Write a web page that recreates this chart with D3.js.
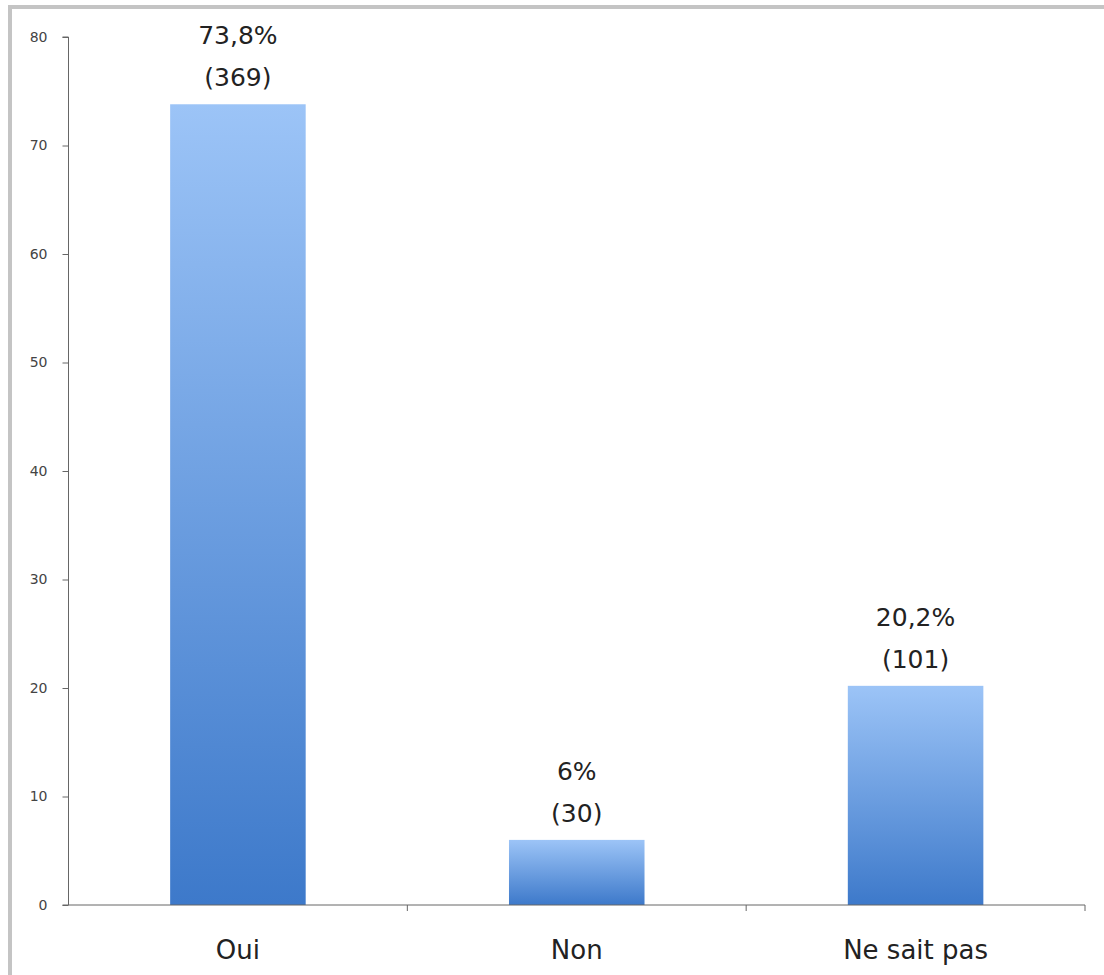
<!DOCTYPE html>
<html><head><meta charset="utf-8">
<script src="https://cdn.jsdelivr.net/npm/d3@7"></script>
<style>html,body{margin:0;padding:0;background:#fff;}svg{display:block;}</style>
</head><body>
<svg id="c" width="1104" height="975"></svg>
<script>
const categories = ["Oui", "Non", "Ne sait pas"];
const values = [73.8, 6, 20.2];
const counts = [369, 30, 101];
const pctLabels = ["73,8%", "6%", "20,2%"];
const yTicks = [0, 10, 20, 30, 40, 50, 60, 70, 80];

(function () {
const svg = d3.select("#c");
// frame
svg.append("rect").attr("x", 0).attr("y", 0).attr("width", 1104).attr("height", 975).attr("fill", "#fff");
svg.append("line").attr("x1", 8).attr("x2", 1104).attr("y1", 7).attr("y2", 7).attr("stroke", "#c4c4c4").attr("stroke-width", 4);
svg.append("line").attr("x1", 10).attr("x2", 10).attr("y1", 5).attr("y2", 975).attr("stroke", "#c4c4c4").attr("stroke-width", 4);

const mLeft = 68.5, mRight = 1085, mTop = 37, mBottom = 905;
const x = d3.scaleBand().domain(categories).range([mLeft, mRight]).paddingInner(0).paddingOuter(0);
const y = d3.scaleLinear().domain([0, 80]).range([mBottom, mTop]);

const defs = svg.append("defs");
const g = defs.append("linearGradient").attr("id", "barGrad").attr("x1", 0).attr("y1", 0).attr("x2", 0).attr("y2", 1);
g.append("stop").attr("offset", "0%").attr("stop-color", "#9cc4f7");
g.append("stop").attr("offset", "100%").attr("stop-color", "#3d79ca");

const barW = x.bandwidth() * 0.4;
svg.selectAll("rect.bar").data(values).join("rect").attr("class", "bar")
  .attr("x", (d, i) => x(categories[i]) + (x.bandwidth() - barW) / 2)
  .attr("width", barW)
  .attr("y", d => y(d))
  .attr("height", d => y(0) - y(d))
  .attr("fill", "url(#barGrad)");

// y axis
const yAxis = d3.axisLeft(y).tickValues(yTicks).tickSize(6).tickPadding(15);
const ya = svg.append("g").attr("transform", `translate(${mLeft},0)`).call(yAxis);
ya.select(".domain").attr("stroke", "#666").attr("d", `M-6,${mTop}H0V${mBottom}H-6`);
ya.selectAll(".tick line").attr("stroke", "#666");
ya.selectAll(".tick text").attr("font-family", "DejaVu Sans, sans-serif").attr("font-size", 14).attr("fill", "#444");

// x axis
const xAxis = d3.axisBottom(x).tickSize(0).tickPadding(0).tickFormat("");
const xa = svg.append("g").attr("transform", `translate(0,${mBottom})`).call(xAxis);
xa.select(".domain").attr("stroke", "#666").attr("d", `M${mLeft},0H${mRight}V6`);
const bounds = [x.range()[0] + x.bandwidth(), x.range()[0] + 2 * x.bandwidth()];
xa.selectAll("line.bt").data(bounds).join("line").attr("class", "bt")
  .attr("x1", d => d).attr("x2", d => d).attr("y1", 0).attr("y2", 6).attr("stroke", "#666");

svg.selectAll("text.cat").data(categories).join("text").attr("class", "cat")
  .attr("x", d => x(d) + x.bandwidth() / 2)
  .attr("y", mBottom + 54)
  .attr("text-anchor", "middle")
  .attr("font-family", "DejaVu Sans, sans-serif").attr("font-size", 26).attr("fill", "#222")
  .text(d => d);

// value labels
svg.selectAll("text.pct").data(values).join("text").attr("class", "pct")
  .attr("x", (d, i) => x(categories[i]) + x.bandwidth() / 2)
  .attr("y", d => y(d) - 60)
  .attr("text-anchor", "middle")
  .attr("font-family", "DejaVu Sans, sans-serif").attr("font-size", 25).attr("fill", "#222")
  .text((d, i) => pctLabels[i]);
svg.selectAll("text.cnt").data(values).join("text").attr("class", "cnt")
  .attr("x", (d, i) => x(categories[i]) + x.bandwidth() / 2)
  .attr("y", d => y(d) - 18)
  .attr("text-anchor", "middle")
  .attr("font-family", "DejaVu Sans, sans-serif").attr("font-size", 25).attr("fill", "#222")
  .text((d, i) => `(${counts[i]})`);
})();
</script>
</body></html>
